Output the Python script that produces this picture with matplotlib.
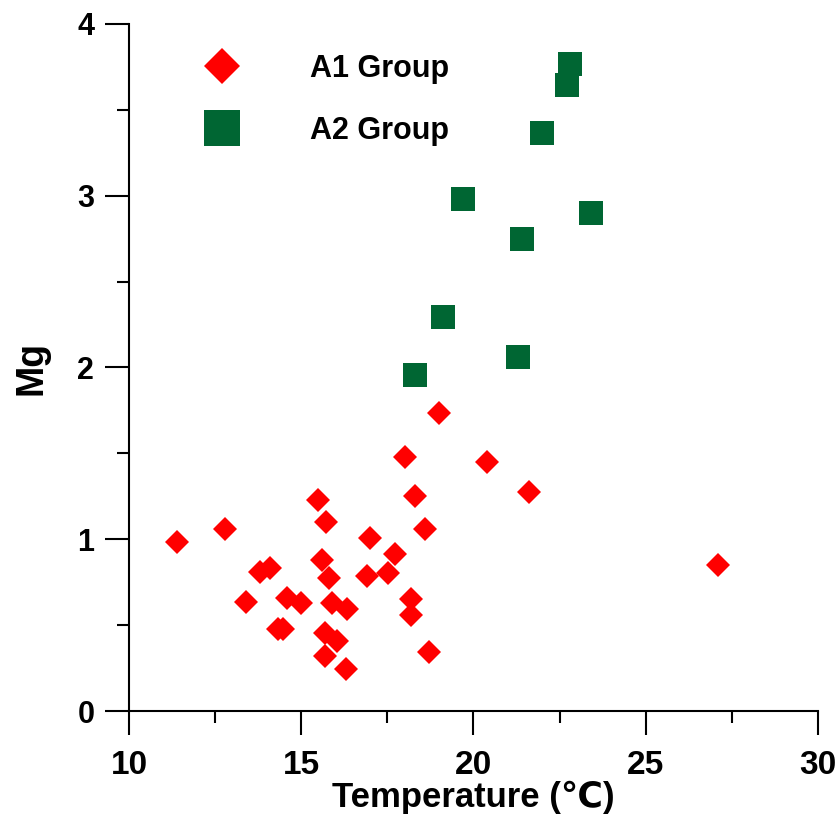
import matplotlib.pyplot as plt
from matplotlib import font_manager
from matplotlib.ticker import MultipleLocator

plt.rcParams["font.family"] = ["Liberation Sans", "DejaVu Sans"]
plt.rcParams["font.weight"] = "bold"

# A1 group (red diamonds)
a1_temp = [11.40, 12.80, 15.49, 15.71, 18.31, 18.60, 17.01, 17.72, 15.60,
           13.80, 14.09, 15.81, 16.90, 17.51, 13.39, 14.59, 14.98, 15.89,
           16.32, 18.20, 18.20, 14.33, 14.48, 15.70, 16.03, 15.70, 16.30,
           18.70, 19.01, 18.01, 20.40, 21.61, 27.10]
a1_mg = [0.986, 1.062, 1.229, 1.099, 1.253, 1.058, 1.009, 0.912, 0.881,
         0.811, 0.834, 0.772, 0.786, 0.805, 0.632, 0.656, 0.628, 0.627,
         0.592, 0.650, 0.557, 0.475, 0.475, 0.455, 0.407, 0.321, 0.243,
         0.342, 1.733, 1.478, 1.451, 1.276, 0.848]

# A2 group (green squares)
a2_temp = [22.80, 22.71, 21.99, 19.70, 23.40, 21.40, 19.11, 21.29, 18.30]
a2_mg = [3.766, 3.645, 3.366, 2.983, 2.897, 2.750, 2.291, 2.062, 1.955]

red = "#ff0000"
green = "#006633"

names = {f.name for f in font_manager.fontManager.ttflist}
tick_family = "Liberation Sans Narrow" if "Liberation Sans Narrow" in names else "Liberation Sans"

fig = plt.figure(figsize=(8.38, 8.23), dpi=100)
ax = fig.add_axes([0.154, 0.136, 0.822, 0.835])

ax.plot(a1_temp, a1_mg, "D", color=red, markersize=12, markeredgewidth=0,
        linestyle="none", label="A1 Group")
ax.plot(a2_temp, a2_mg, "s", color=green, markersize=17, markeredgewidth=0,
        linestyle="none", label="A2 Group")

ax.set_xlim(10, 30)
ax.set_ylim(0, 4)
ax.xaxis.set_major_locator(MultipleLocator(5))
ax.xaxis.set_minor_locator(MultipleLocator(2.5))
ax.yaxis.set_major_locator(MultipleLocator(1))
ax.yaxis.set_minor_locator(MultipleLocator(0.5))

for side in ["top", "right"]:
    ax.spines[side].set_visible(False)
for side in ["left", "bottom"]:
    ax.spines[side].set_linewidth(1.5)

ax.tick_params(which="major", direction="out", length=17, width=1.5)
ax.tick_params(which="minor", direction="out", length=8.5, width=1.5)
ax.tick_params(axis="x", which="major", pad=11)
ax.tick_params(axis="y", which="major", pad=8)
for lab in ax.get_xticklabels():
    lab.set_fontfamily(tick_family)
    lab.set_fontsize(24)
    lab.set_fontweight("bold")
for lab in ax.get_yticklabels():
    lab.set_fontfamily(tick_family)
    lab.set_fontsize(22)
    lab.set_fontweight("bold")

ax.set_xlabel("Temperature (\u2103)", fontsize=25, fontweight="bold", labelpad=0)
ax.set_ylabel("Mg", fontsize=27, fontweight="bold", labelpad=20)

leg = ax.legend(loc="upper left", bbox_to_anchor=(0.09, 0.956), frameon=False,
                markerscale=1.5, fontsize=22, handletextpad=1.9,
                labelspacing=1.05, borderaxespad=0, borderpad=0)
for t in leg.get_texts():
    t.set_fontweight("bold")

fig.savefig("out.png", dpi=100)
